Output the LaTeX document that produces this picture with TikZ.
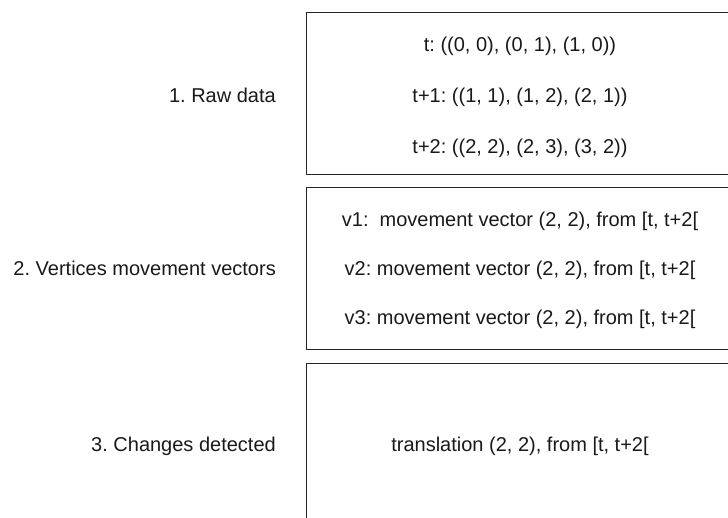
\documentclass[tikz,border=0pt]{standalone}
\usepackage{fontspec}
\setmainfont{Liberation Sans}
\frenchspacing
\begin{document}
\begin{tikzpicture}[x=1pt,y=-1pt,
  stage/.style={draw=black!85, line width=1pt, rectangle, inner sep=0pt,
                anchor=north west, minimum width=430pt},
  entry/.style={inner sep=0pt, anchor=base, text=black!90,
                font=\fontsize{20}{24}\selectfont},
  caption/.style={entry, anchor=base east}]
\useasboundingbox (0,0) rectangle (728,518);
\clip (0,0) rectangle (728,518);

% the three stage frames (open to the right and bottom edges)
\node[stage, minimum height=162pt] (raw) at (305.5,12) {};
\node[stage, minimum height=162pt] (vec) at (305.5,187) {};
\node[stage, minimum height=175pt] (chg) at (305.5,363) {};

% stage captions
\node[caption] (lraw) at (276,103) {1. Raw data};
\node[caption] (lvec) at (276,276) {2. Vertices movement vectors};
\node[caption] (lchg) at (276,451) {3. Changes detected};

% raw positions
\node[entry] (r0) at (520,52)  {t: ((0, 0), (0, 1), (1, 0))};
\node[entry] (r1) at (520,103) {t+1: ((1, 1), (1, 2), (2, 1))};
\node[entry] (r2) at (520,154) {t+2: ((2, 2), (2, 3), (3, 2))};

% per-vertex movement
\node[entry] (v1) at (520,227) {v1:\ \ movement vector (2, 2), from [t, t+2[};
\node[entry] (v2) at (520,276) {v2: movement vector (2, 2), from [t, t+2[};
\node[entry] (v3) at (520,325) {v3: movement vector (2, 2), from [t, t+2[};

% detected change
\node[entry] (c1) at (520,451) {translation (2, 2), from [t, t+2[};
\end{tikzpicture}
\end{document}
